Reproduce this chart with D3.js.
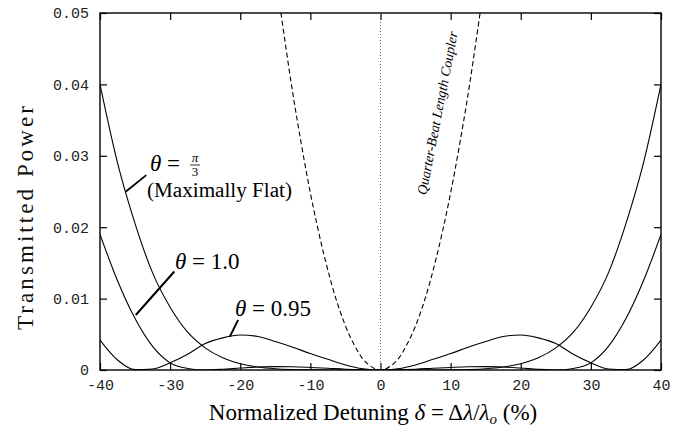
<!DOCTYPE html>
<html><head><meta charset="utf-8">
<script src="https://cdn.jsdelivr.net/npm/d3@7"></script>
<style>body{margin:0;background:#fff}svg{display:block}</style>
</head><body><svg id="c" width="680" height="434"></svg>
<script>
// Normalized detuning (%) sample points
const delta = [-40,-37.5,-35,-32.5,-30,-27.5,-25,-22.5,-20,-17.5,-15,-12.5,-10,-7.5,-5,-2.5,0,2.5,5,7.5,10,12.5,15,17.5,20,22.5,25,27.5,30,32.5,35,37.5,40];
// theta = pi/3 (maximally flat)
const thetaPi3 = [0.0400,0.0290,0.0205,0.0136,0.0088,0.0053,0.0031,0.0017,0.00088,0.00042,0.00018,0.00007,0.00002,0.000005,0,0,0,0,0,0.000005,0.00002,0.00007,0.00018,0.00042,0.00088,0.0017,0.0031,0.0053,0.0088,0.0136,0.0205,0.0290,0.0400];
// theta = 1.0
const theta10 = [0.0190,0.0125,0.0072,0.0033,0.0010,0.00022,0.000005,0.0001,0.00027,0.00041,0.00047,0.00045,0.00036,0.00024,0.00011,0.00003,0,0.00003,0.00011,0.00024,0.00036,0.00045,0.00047,0.00041,0.00027,0.0001,0.000005,0.00022,0.0010,0.0033,0.0072,0.0125,0.0190];
// theta = 0.95
const theta095 = [0.0042,0.0014,0.00005,0.00015,0.0010,0.0022,0.0037,0.0045,0.0049,0.0047,0.0040,0.0032,0.0023,0.0015,0.0007,0.00017,0,0.00017,0.0007,0.0015,0.0023,0.0032,0.0040,0.0047,0.0049,0.0045,0.0037,0.0022,0.0010,0.00015,0.00005,0.0014,0.0042];
// Quarter-beat length coupler
const qbDelta = [-14.2,-13,-12,-10,-8,-6,-4,-2,0,2,4,6,8,10,12,13,14.2];
const qbPower = [0.05,0.0419,0.0357,0.0248,0.0159,0.0089,0.0040,0.0010,0,0.0010,0.0040,0.0089,0.0159,0.0248,0.0357,0.0419,0.05];

const xTicks = [-40,-30,-20,-10,0,10,20,30,40];
const xTickLabels = ["-40","-30","-20","-10","0","10","20","30","40"];
const yTicks = [0,0.01,0.02,0.03,0.04,0.05];
const yTickLabels = ["0","0.01","0.02","0.03","0.04","0.05"];

const svg = d3.select("#c");
const L=100,R=661,T=13,B=370;
const x = d3.scaleLinear().domain([-40,40]).range([L,R]);
const y = d3.scaleLinear().domain([0,0.05]).range([B,T]);

svg.append("defs").append("clipPath").attr("id","clip")
  .append("rect").attr("x",L).attr("y",T).attr("width",R-L).attr("height",B-T);

const mono = "'Liberation Mono','DejaVu Sans Mono',monospace";
const serif = "'Liberation Serif','DejaVu Serif',serif";

// axes
const ax = (g)=>{g.select(".domain").remove(); g.selectAll("line").attr("stroke","#000").attr("stroke-width",1.2);};
svg.append("g").attr("transform",`translate(0,${B})`)
  .call(d3.axisBottom(x).tickValues(xTicks).tickFormat((d,i)=>xTickLabels[i]).tickSize(-7).tickPadding(9))
  .call(ax).call(g=>g.selectAll("text").attr("font-family",mono).attr("font-size",15).attr("fill","#222"));
svg.append("g").attr("transform",`translate(0,${T})`)
  .call(d3.axisTop(x).tickValues(xTicks).tickFormat("").tickSize(-7)).call(ax);
svg.append("g").attr("transform",`translate(${L},0)`)
  .call(d3.axisLeft(y).tickValues(yTicks).tickFormat((d,i)=>yTickLabels[i]).tickSize(-7).tickPadding(11))
  .call(ax).call(g=>g.selectAll("text").attr("font-family",mono).attr("font-size",15).attr("fill","#222"));
svg.append("g").attr("transform",`translate(${R},0)`)
  .call(d3.axisRight(y).tickValues(yTicks).tickFormat("").tickSize(-7)).call(ax);

// frame
svg.append("rect").attr("x",L).attr("y",T).attr("width",R-L).attr("height",B-T)
  .attr("fill","none").attr("stroke","#000").attr("stroke-width",1.4);

// center dotted line
svg.append("line").attr("x1",x(0)).attr("x2",x(0)).attr("y1",T).attr("y2",B)
  .attr("stroke","#666").attr("stroke-width",1).attr("stroke-dasharray","1,2");

const plot = svg.append("g").attr("clip-path","url(#clip)");
const line = d3.line().x(d=>x(d[0])).y(d=>y(d[1])).curve(d3.curveMonotoneX);
[thetaPi3, theta10, theta095].forEach(s=>{
  plot.append("path").attr("d",line(delta.map((d,i)=>[d,s[i]])))
    .attr("fill","none").attr("stroke","#000").attr("stroke-width",1.1);
});
plot.append("path").attr("d",d3.line().x(d=>x(d[0])).y(d=>y(d[1])).curve(d3.curveCatmullRom)(qbDelta.map((d,i)=>[d,qbPower[i]])))
  .attr("fill","none").attr("stroke","#000").attr("stroke-width",1.1).attr("stroke-dasharray","5,3");

// leader lines
const leader=(d1,v1,d2,v2,w)=>svg.append("line").attr("x1",x(d1)).attr("y1",y(v1)).attr("x2",x(d2)).attr("y2",y(v2))
  .attr("stroke","#000").attr("stroke-width",w);
leader(-36.3,0.025,-33.4,0.0273,1.8);
leader(-34.9,0.0077,-29.4,0.0138,2);
leader(-21.5,0.00466,-20.3,0.007,1.8);

// annotations
const t1 = svg.append("text").attr("x",150).attr("y",171).attr("font-family",serif).attr("font-size",23);
t1.append("tspan").attr("font-style","italic").text("θ");
t1.append("tspan").text(" = ");
svg.append("text").attr("x",195).attr("y",162).attr("text-anchor","middle").attr("font-family",serif).attr("font-size",13).attr("font-style","italic").text("π");
svg.append("line").attr("x1",190).attr("x2",200).attr("y1",165).attr("y2",165).attr("stroke","#000").attr("stroke-width",0.8);
svg.append("text").attr("x",195).attr("y",176).attr("text-anchor","middle").attr("font-family",serif).attr("font-size",13).text("3");
svg.append("text").attr("x",147).attr("y",197).attr("font-family",serif).attr("font-size",20)
  .attr("textLength",145).attr("lengthAdjust","spacingAndGlyphs").text("(Maximally Flat)");

const t2 = svg.append("text").attr("x",175).attr("y",269).attr("font-family",serif).attr("font-size",23);
t2.append("tspan").attr("font-style","italic").text("θ");
t2.append("tspan").text(" = 1.0");
const t3 = svg.append("text").attr("x",235).attr("y",316).attr("font-family",serif).attr("font-size",23);
t3.append("tspan").attr("font-style","italic").text("θ");
t3.append("tspan").text(" = 0.95");

// quarter-beat label
svg.append("text").attr("transform",`translate(442,114) rotate(-79)`).attr("text-anchor","middle")
  .attr("font-family",serif).attr("font-style","italic").attr("font-size",14)
  .attr("textLength",166).attr("lengthAdjust","spacingAndGlyphs").text("Quarter-Beat Length Coupler");

// axis titles
const xl = svg.append("text").attr("x",373).attr("y",420).attr("text-anchor","middle")
  .attr("font-family",serif).attr("font-size",23);
xl.append("tspan").text("Normalized Detuning  ");
xl.append("tspan").attr("font-style","italic").text("δ");
xl.append("tspan").text(" = Δ");
xl.append("tspan").attr("font-style","italic").text("λ");
xl.append("tspan").text("/");
xl.append("tspan").attr("font-style","italic").text("λ");
xl.append("tspan").attr("font-style","italic").attr("font-size",15).attr("dy",4).text("o");
xl.append("tspan").attr("dy",-4).text(" (%)");

svg.append("text").attr("transform","translate(33,218) rotate(-90)").attr("text-anchor","middle")
  .attr("font-family",serif).attr("font-size",23).attr("fill","#111").attr("textLength",224).attr("lengthAdjust","spacing")
  .text("Transmitted Power");
</script></body></html>
